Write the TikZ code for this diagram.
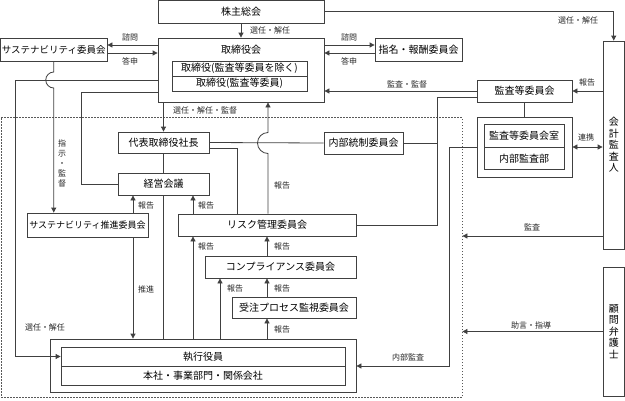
\documentclass[tikz,border=0pt]{standalone}
\usepackage{fontspec}
\setmainfont{Noto Sans CJK JP}
\usetikzlibrary{arrows.meta}
\tikzstyle{boxes} = [rectangle, draw=black!75, line width=0.8pt, inner sep=0pt, text centered, font=\fontsize{10}{12}\selectfont]
\tikzstyle{tate} = [boxes, align=center, font=\fontsize{10}{11.5}\selectfont]
\tikzstyle{lbl} = [inner sep=0pt, text=black!85, font=\fontsize{8}{10}\selectfont]
\tikzstyle{conn} = [draw=black!75, line width=0.8pt]
\tikzstyle{arrow} = [conn, -{Triangle[length=5pt,width=5pt]}]
\tikzstyle{dotbox} = [rectangle, draw=black!65, line width=0.8pt, dash pattern=on 1.5pt off 1.5pt]

\begin{document}
\begin{tikzpicture}[x=1pt, y=-1pt]
    \useasboundingbox (0,0) rectangle (625,400);

    %Frame
    \node (exframe) [dotbox, minimum width=461pt, minimum height=280pt] at (231.5,257) {};

    %Main Nodes
    \node (agm) [boxes, minimum width=166pt, minimum height=22.5pt] at (241,11.75) {株主総会};
    \node (board) [boxes, minimum width=166pt, minimum height=64pt] at (241,70) {};
    \node (boardT) [boxes, draw=none] at (241,50) {取締役会};
    \node (dirA) [boxes, minimum width=135pt, minimum height=15pt] at (239.5,68.5) {取締役(監査等委員を除く)};
    \node (dirB) [boxes, minimum width=135pt, minimum height=15pt] at (239.5,83.5) {取締役(監査等委員)};
    \node (sus) [boxes, minimum width=106.5pt, minimum height=23pt, font=\fontsize{9.5}{11}\selectfont] at (53.75,49.5) {サステナビリティ委員会};
    \node (nom) [boxes, minimum width=87pt, minimum height=23pt] at (418.5,49.5) {指名・報酬委員会};
    \node (audc) [boxes, minimum width=95pt, minimum height=22pt] at (524.5,91) {監査等委員会};
    \node (auds) [boxes, minimum width=95pt, minimum height=60pt] at (524.5,147) {};
    \node (audsA) [boxes, minimum width=80pt, minimum height=22.5pt] at (524,135.75) {監査等委員会室};
    \node (audsB) [boxes, minimum width=80pt, minimum height=22.5pt] at (524,158.25) {内部監査部};
    \node (acct) [tate, minimum width=21.5pt, minimum height=208pt] at (613.75,145) {会\\計\\監\\査\\人};
    \node (law) [tate, minimum width=21.5pt, minimum height=129pt] at (613.75,331.5) {顧\\問\\弁\\護\\士};

    %Executive Nodes
    \node (pres) [boxes, minimum width=91pt, minimum height=21pt] at (163.5,142.5) {代表取締役社長};
    \node (mgmt) [boxes, minimum width=91pt, minimum height=22pt] at (163.5,184) {経営会議};
    \node (icc) [boxes, minimum width=79pt, minimum height=22pt] at (363.5,143) {内部統制委員会};
    \node (susp) [boxes, minimum width=121pt, minimum height=24pt, font=\fontsize{9}{11}\selectfont] at (87.5,225) {サステナビリティ推進委員会};
    \node (risk) [boxes, minimum width=178pt, minimum height=22pt] at (267,225) {リスク管理委員会};
    \node (comp) [boxes, minimum width=151pt, minimum height=22pt] at (280.5,267) {コンプライアンス委員会};
    \node (ord) [boxes, minimum width=124pt, minimum height=21pt] at (294,307.5) {受注プロセス監視委員会};
    \node (exec) [boxes, minimum width=306pt, minimum height=53pt] at (203,365.5) {};
    \node (execA) [boxes, minimum width=284pt, minimum height=19pt] at (203,356.5) {執行役員};
    \node (execB) [boxes, minimum width=284pt, minimum height=19pt] at (203,375.5) {本社・事業部門・関係会社};

    %Helper Points
    \coordinate (icj) at (437,143);
    \coordinate (iaj) at (449,147);

    %Arrows
    \draw [arrow] (agm) -- (board);
    \draw [arrow] (agm.east) -| (acct.north);
    \draw [arrow] (board.west |- 0,45) -- (sus.east |- 0,45);
    \draw [arrow] (sus.east |- 0,53) -- (board.west |- 0,53);
    \draw [arrow] (board.east |- 0,45) -- (nom.west |- 0,45);
    \draw [arrow] (nom.west |- 0,53) -- (board.east |- 0,53);
    \draw [arrow] (audc.west) -- (board.east |- audc.west);
    \draw [arrow] (acct.west |- audc.east) -- (audc.east);
    \draw [conn] (audc) -- (auds);
    \draw [conn, {Triangle[length=5pt,width=5pt]}-{Triangle[length=5pt,width=5pt]}] (auds.east) -- (acct.west |- auds.east);
    \draw [arrow] (acct.west |- 0,236) -- (exframe.east |- 0,236);
    \draw [arrow] (law.west) -- (exframe.east |- law.west);
    \draw [arrow] (pres.north |- board.south) -- (pres.north);
    \draw [conn] (pres) -- (mgmt);
    \draw [conn] (mgmt.south) -- (mgmt.south |- exec.north);
    \draw [conn] (board.west |- 0,92) -- (81,92) |- (mgmt.west);
    \draw [arrow] (board.west |- 0,80) -- (15,80) |- (execA.west);
    \draw [arrow] (sus.south) -- (53.75,72) arc[start angle=90, end angle=270, radius=8pt] -- (sus.south |- susp.north);
    \draw [arrow] (susp.north -| 133,0) -- (mgmt.south -| 133,0);
    \draw [arrow] (susp.south -| 133,0) -- (exec.north -| 133,0);
    \draw [conn] (pres.east) -- (icc.west);
    \draw [conn] (icc.east) -- (icj);
    \draw [conn] (audc.west |- 0,97) -- (437,97) |- (risk.east);
    \draw [conn] (pres.east |- 0,148) -| (risk.north -| 237,0);
    \draw [arrow] (risk.north -| 268,0) -- (268,153.5) arc[start angle=270, end angle=90, radius=10.5pt] -- (board.south -| 268,0);
    \draw [arrow] (risk.north -| 193,0) -- (mgmt.south -| 193,0);
    \draw [arrow] (exec.north -| 193,0) -- (risk.south -| 193,0);
    \draw [arrow] (exec.north -| 220,0) -- (comp.south -| 220,0);
    \draw [arrow] (comp.north -| 267,0) -- (risk.south -| 267,0);
    \draw [arrow] (ord.north -| 267,0) -- (comp.south -| 267,0);
    \draw [arrow] (exec.north -| 267,0) -- (ord.south -| 267,0);
    \draw [arrow] (auds.west) -- (iaj) |- (exec.east |- 0,366);

    %Labels
    \node (l1) [lbl] at (270,30) {選任・解任};
    \node (l2) [lbl] at (578,20) {選任・解任};
    \node (l3) [lbl] at (130,37) {諮問};
    \node (l4) [lbl] at (130,61) {答申};
    \node (l5) [lbl] at (349,37) {諮問};
    \node (l6) [lbl] at (349,61) {答申};
    \node (l7) [lbl] at (407,84) {監査・監督};
    \node (l8) [lbl] at (587,82) {報告};
    \node (l9) [lbl] at (586,137) {連携};
    \node (l10) [lbl] at (532,227) {監査};
    \node (l11) [lbl] at (531,325) {助言・指導};
    \node (l12) [lbl] at (205,110) {選任・解任・監督};
    \node (l13) [lbl, align=center] at (62,163) {指\\示\\・\\監\\督};
    \node (l14) [lbl] at (146,205) {報告};
    \node (l15) [lbl] at (146,289) {推進};
    \node (l16) [lbl] at (206,205) {報告};
    \node (l17) [lbl] at (282,185) {報告};
    \node (l18) [lbl] at (206,246) {報告};
    \node (l19) [lbl] at (235,288) {報告};
    \node (l20) [lbl] at (282,246) {報告};
    \node (l21) [lbl] at (282,288) {報告};
    \node (l22) [lbl] at (282,329) {報告};
    \node (l23) [lbl] at (45,327) {選任・解任};
    \node (l24) [lbl] at (408,357) {内部監査};
\end{tikzpicture}
\end{document}
